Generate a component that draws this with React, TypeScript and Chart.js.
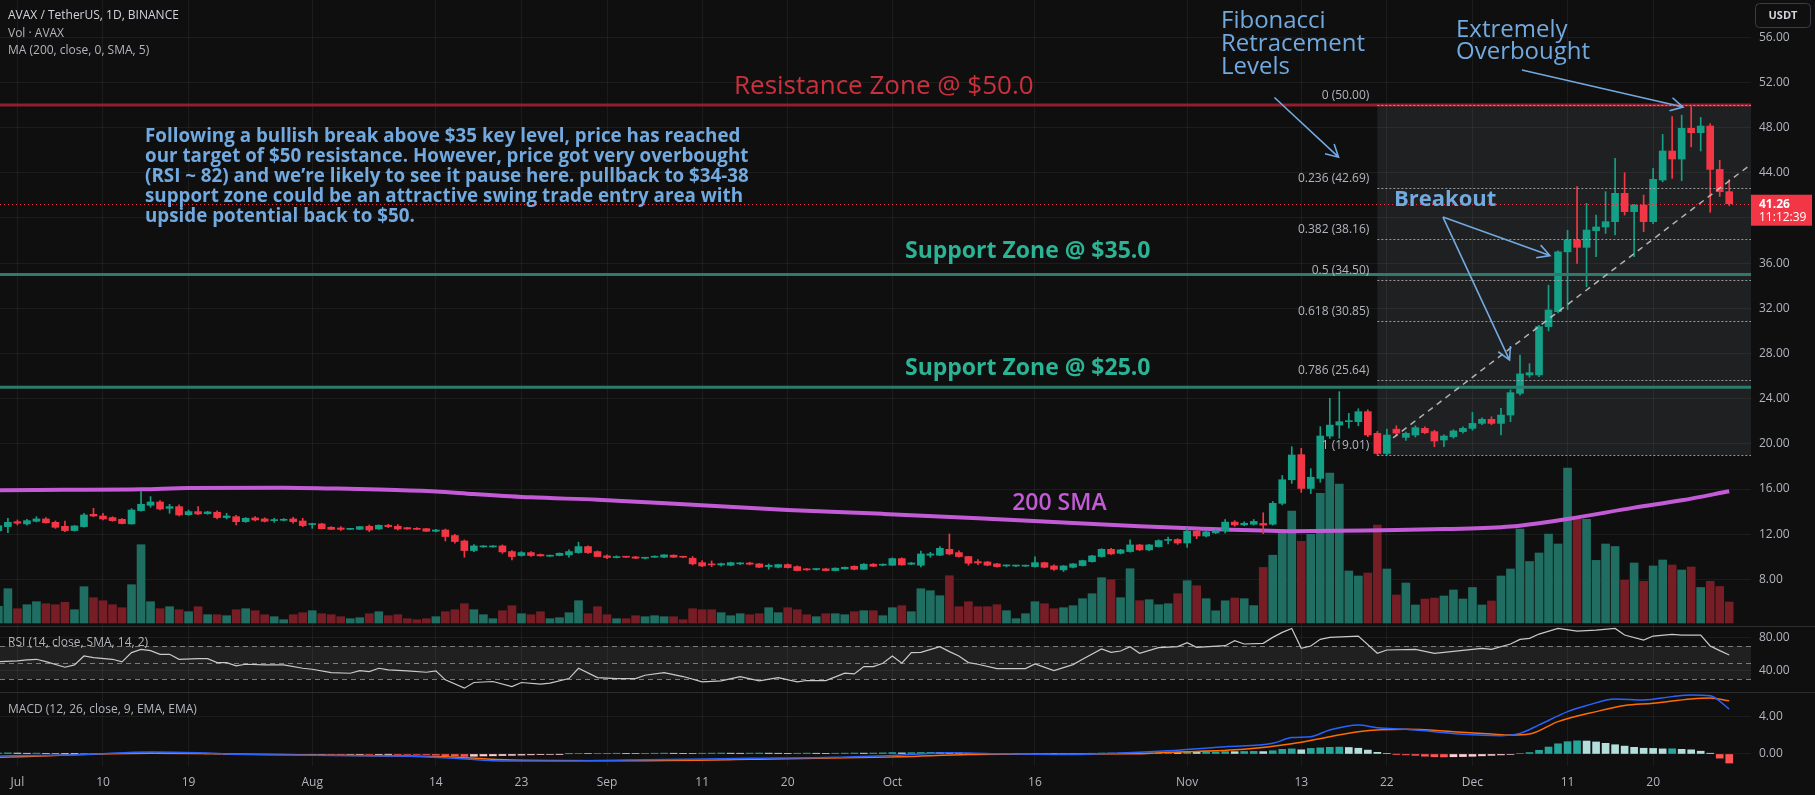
import React, { useEffect, useRef } from 'react';
import { Chart, registerables } from 'chart.js';

Chart.register(...registerables);

// ---------------- DATA ----------------
// Day index: 0 = 1 Jul 2023. Candle arrays start at FIRST_DAY (29 Jun 2023).
const FIRST_DAY = -2;
const tickDays = [0, 9, 18, 31, 44, 53, 62, 72, 81, 92, 107, 123, 135, 144, 153, 163, 172];
const tickLabels = ['Jul', '10', '19', 'Aug', '14', '23', 'Sep', '11', '20', 'Oct', '16', 'Nov', '13', '22', 'Dec', '11', '20'];

const openPrices = [
  12.30, 12.67, 13.11, 12.91, 13.14, 13.35, 13.05, 12.70, 12.32, 12.67,
  13.76, 13.61, 13.47, 13.32, 12.91, 14.09, 14.56, 14.85, 14.29, 14.44,
  13.73, 14.00, 13.82, 13.94, 13.47, 13.55, 13.11, 13.44, 13.35, 13.20,
  13.23, 13.35, 13.17, 12.85, 12.91, 12.61, 12.55, 12.43, 12.43, 12.70,
  12.46, 12.79, 12.70, 12.58, 12.52, 12.49, 12.26, 12.37, 11.88, 11.40,
  10.55, 10.87, 10.87, 10.96, 10.46, 10.11, 10.37, 10.20, 10.05, 10.11,
  10.17, 10.37, 10.90, 10.46, 10.08, 9.93, 10.00, 9.99, 9.87, 9.96,
  9.96, 10.14, 10.00, 9.87, 9.48, 9.37, 9.28, 9.25, 9.37, 9.45,
  9.37, 9.13, 9.07, 9.31, 9.13, 8.93, 8.87, 8.93, 8.78, 8.93,
  9.16, 8.89, 9.34, 9.25, 9.25, 9.84, 9.34, 9.25, 10.14, 10.14,
  10.66, 10.37, 10.02, 9.57, 9.54, 9.37, 9.19, 9.18, 9.17, 9.13,
  9.48, 9.19, 8.84, 9.07, 9.22, 9.57, 10.02, 10.66, 10.31, 10.46,
  11.05, 10.61, 10.90, 11.45, 11.53, 11.22, 12.27, 11.84, 12.12, 12.30,
  13.07, 12.82, 12.88, 12.95, 12.88, 14.73, 16.82, 19.04, 16.05, 16.94,
  20.69, 21.66, 21.96, 21.96, 22.85, 20.93, 19.15, 21.30, 20.57, 20.78,
  21.37, 21.08, 20.34, 20.63, 21.08, 21.37, 21.81, 22.17, 21.81, 22.55,
  24.47, 26.10, 26.10, 30.38, 31.70, 37.00, 38.05, 37.40, 38.87, 39.20,
  39.67, 42.18, 40.56, 41.15, 39.67, 43.36, 45.93, 45.22, 47.94, 47.55,
  48.14, 44.30, 42.33,
];
const highPrices = [
  12.80, 13.41, 13.26, 13.32, 13.55, 13.47, 13.17, 13.17, 12.76, 13.85,
  14.29, 13.85, 13.55, 13.38, 14.26, 15.77, 15.33, 14.97, 14.65, 14.59,
  14.14, 14.44, 14.03, 14.06, 13.85, 13.67, 13.47, 13.55, 13.45, 13.41,
  13.38, 13.50, 13.41, 12.97, 12.97, 12.67, 12.67, 12.52, 12.70, 12.82,
  12.82, 12.88, 12.85, 12.61, 12.58, 12.52, 12.43, 12.46, 11.99, 11.49,
  11.08, 11.00, 10.99, 11.05, 10.55, 10.46, 10.46, 10.25, 10.14, 10.34,
  10.61, 11.29, 10.96, 10.52, 10.17, 10.08, 10.05, 10.04, 9.96, 10.08,
  10.20, 10.17, 10.05, 10.02, 9.66, 9.63, 9.45, 9.52, 9.49, 9.52,
  9.40, 9.37, 9.34, 9.37, 9.20, 8.97, 8.95, 8.99, 9.02, 9.10,
  9.20, 9.40, 9.40, 9.37, 9.90, 9.90, 9.50, 10.50, 10.40, 10.90,
  12.02, 10.52, 10.05, 9.75, 9.60, 9.42, 9.28, 9.25, 9.26, 10.00,
  9.52, 9.28, 9.22, 9.40, 9.70, 10.12, 10.72, 10.75, 10.66, 11.49,
  11.10, 11.10, 11.50, 11.75, 11.60, 12.57, 12.40, 12.30, 12.40, 13.30,
  13.20, 13.10, 13.30, 13.90, 14.90, 17.20, 19.75, 19.60, 17.80, 21.52,
  24.03, 24.62, 22.70, 23.10, 23.00, 21.10, 21.30, 21.60, 21.05, 21.60,
  21.50, 21.20, 20.80, 21.25, 21.50, 22.80, 22.30, 22.40, 23.14, 24.77,
  27.86, 27.10, 30.50, 34.05, 37.10, 38.90, 42.77, 41.29, 40.26, 42.33,
  45.28, 44.01, 41.20, 42.03, 44.40, 47.40, 48.97, 49.10, 50.00, 48.90,
  48.35, 45.10, 43.40,
];
const lowPrices = [
  12.25, 12.14, 12.82, 12.79, 13.08, 12.97, 12.52, 12.23, 12.28, 12.61,
  13.55, 13.26, 13.14, 12.90, 12.88, 14.03, 14.38, 14.14, 13.85, 13.61,
  13.67, 13.73, 13.76, 13.35, 13.35, 12.82, 13.05, 13.17, 13.08, 13.05,
  13.17, 12.97, 12.67, 12.52, 12.46, 12.40, 12.32, 12.40, 12.40, 12.23,
  12.43, 12.58, 12.37, 12.43, 12.40, 12.23, 12.20, 11.40, 11.20, 9.96,
  10.46, 10.84, 10.84, 10.30, 9.73, 10.05, 10.02, 10.05, 10.02, 10.08,
  9.96, 10.31, 10.30, 9.99, 9.84, 9.90, 9.93, 9.84, 9.81, 9.93,
  9.93, 9.93, 9.93, 9.28, 9.13, 9.13, 9.16, 9.20, 9.31, 9.28,
  9.04, 8.89, 9.02, 9.00, 8.75, 8.80, 8.82, 8.75, 8.75, 8.90,
  8.84, 8.86, 9.12, 9.20, 9.22, 9.25, 9.30, 9.10, 9.96, 10.10,
  10.17, 9.96, 9.25, 9.30, 9.20, 9.07, 9.10, 9.12, 9.14, 9.07,
  9.02, 8.80, 8.70, 9.02, 9.18, 9.52, 9.96, 10.20, 10.25, 10.40,
  10.55, 10.55, 10.85, 11.13, 11.10, 10.82, 11.60, 11.75, 12.05, 12.10,
  12.70, 12.75, 12.80, 12.05, 12.80, 14.60, 16.50, 15.70, 15.59, 16.60,
  20.49, 20.49, 21.40, 21.60, 20.63, 19.01, 19.05, 20.70, 20.30, 20.60,
  20.90, 19.75, 19.75, 20.50, 20.95, 21.20, 21.70, 21.70, 20.78, 21.96,
  24.32, 25.90, 25.95, 30.00, 31.60, 31.90, 35.98, 33.90, 36.57, 38.64,
  38.49, 40.26, 36.57, 38.79, 39.50, 43.20, 43.50, 43.30, 46.30, 45.93,
  40.50, 41.90, 41.10,
];
const closePrices = [
  12.75, 13.05, 12.97, 13.20, 13.35, 13.02, 12.61, 12.32, 12.73, 13.70,
  13.61, 13.35, 13.20, 12.94, 14.14, 14.65, 14.85, 14.23, 14.44, 13.70,
  14.00, 13.79, 13.97, 13.47, 13.61, 13.11, 13.41, 13.26, 13.14, 13.29,
  13.32, 13.11, 12.76, 12.94, 12.49, 12.43, 12.43, 12.49, 12.67, 12.37,
  12.79, 12.67, 12.46, 12.46, 12.43, 12.26, 12.37, 11.79, 11.35, 10.55,
  10.96, 10.93, 10.96, 10.43, 10.02, 10.37, 10.11, 10.08, 10.11, 10.31,
  10.46, 10.90, 10.37, 10.02, 9.93, 10.02, 9.96, 9.87, 9.93, 10.05,
  10.17, 9.96, 9.96, 9.37, 9.19, 9.28, 9.39, 9.48, 9.43, 9.34,
  9.07, 9.25, 9.31, 9.04, 8.78, 8.84, 8.90, 8.78, 8.99, 9.07,
  8.89, 9.34, 9.16, 9.34, 9.84, 9.28, 9.45, 10.25, 10.25, 10.75,
  10.25, 10.02, 9.43, 9.45, 9.25, 9.13, 9.22, 9.20, 9.23, 9.48,
  9.07, 8.89, 9.19, 9.37, 9.66, 10.08, 10.66, 10.25, 10.61, 11.05,
  10.61, 11.05, 11.43, 11.50, 11.22, 12.27, 11.84, 12.21, 12.30, 13.07,
  12.82, 12.97, 13.13, 12.80, 14.73, 16.82, 19.01, 16.05, 17.04, 20.69,
  21.66, 21.96, 22.05, 22.85, 20.78, 19.15, 20.78, 20.95, 20.93, 21.43,
  20.99, 20.25, 20.69, 21.14, 21.37, 21.81, 22.17, 21.81, 22.55, 24.53,
  26.19, 26.30, 30.38, 31.85, 37.00, 38.05, 37.40, 38.93, 39.20, 39.67,
  42.18, 40.56, 41.15, 39.67, 43.42, 45.93, 45.22, 47.94, 47.55, 48.14,
  44.30, 42.33, 41.26,
];
// volume, millions of AVAX
const volumes = [
  1.67, 3.43, 1.43, 1.83, 2.13, 1.93, 1.83, 2.07, 1.33, 3.63,
  2.53, 2.23, 1.83, 1.53, 3.83, 7.83, 2.13, 1.43, 1.63, 1.33,
  1.13, 1.63, 0.83, 0.83, 0.73, 1.33, 1.43, 1.23, 0.83, 0.63,
  0.33, 0.83, 1.03, 1.23, 0.93, 0.83, 0.63, 0.43, 0.53, 0.93,
  1.13, 0.73, 0.83, 0.43, 0.33, 0.43, 0.63, 1.13, 1.33, 1.93,
  1.33, 0.83, 0.43, 1.23, 1.73, 0.93, 0.83, 1.13, 0.43, 0.53,
  1.03, 2.23, 0.93, 1.63, 0.83, 0.43, 0.43, 0.73, 0.63, 0.73,
  0.63, 0.63, 0.33, 1.43, 1.33, 1.33, 1.03, 0.73, 0.93, 0.83,
  0.93, 1.53, 1.03, 1.53, 1.33, 0.83, 0.63, 0.93, 0.93, 0.83,
  1.13, 1.23, 1.23, 0.73, 1.53, 1.73, 1.13, 3.43, 3.23, 2.73,
  4.73, 1.63, 2.13, 1.63, 1.63, 1.83, 1.23, 0.43, 0.93, 2.13,
  1.93, 1.43, 1.53, 1.73, 2.43, 2.93, 4.53, 4.33, 2.53, 5.43,
  2.23, 2.33, 1.83, 1.93, 2.93, 4.23, 3.73, 2.43, 1.22, 2.22,
  2.50, 2.43, 1.74, 5.56, 6.78, 9.20, 11.20, 8.17, 8.86, 12.96,
  15.00, 13.90, 5.20, 4.70, 5.00, 9.80, 5.40, 2.80, 4.00, 1.80,
  2.40, 2.50, 2.70, 3.30, 2.40, 3.55, 1.80, 2.20, 4.70, 5.40,
  9.40, 6.15, 7.00, 8.90, 7.90, 15.50, 10.36, 10.36, 6.26, 7.90,
  7.65, 4.28, 6.00, 4.17, 5.70, 6.30, 5.80, 5.30, 5.60, 3.55,
  4.17, 3.65, 2.10,
];

// 200-day SMA, read at points along the curve
const smaDays = [-2, 5, 13, 18, 28, 33, 38, 44, 48, 54, 61, 71, 81, 91, 101, 111, 118, 124, 134, 145, 150, 157, 163, 170, 175, 180];
const smaValues = [15.90, 15.93, 15.97, 16.10, 16.12, 16.05, 15.96, 15.79, 15.56, 15.26, 15.05, 14.60, 14.15, 13.80, 13.42, 12.98, 12.70, 12.50, 12.27, 12.36, 12.45, 12.67, 13.35, 14.35, 15.00, 15.80];

// RSI(14)
const rsiDays = [-2, 0, 1, 2, 3, 5, 6, 7, 8, 10, 11, 12, 13, 14, 15, 16, 17, 19, 20, 21, 22, 23, 24, 26, 28, 30, 31, 33, 35, 36, 37, 38, 39, 41, 43, 44, 45, 47, 48, 50, 52, 53, 55, 56, 58, 59, 61, 63, 65, 66, 68, 70, 72, 74, 76, 78, 80, 82, 83, 85, 87, 88, 89, 90, 91, 92, 93, 94, 95, 97, 98, 99, 100, 101, 103, 106, 107, 109, 111, 112, 114, 115, 116, 117, 118, 120, 122, 123, 124, 127, 128, 129, 131, 132, 133, 134, 135, 136, 137, 138, 141, 143, 144, 147, 149, 154, 155, 157, 158, 159, 160, 162, 164, 166, 168, 169, 171, 172, 174, 175, 177, 178, 179, 180];
const rsiValues = [51.2, 52.0, 53.2, 54.0, 51.2, 44.4, 47.2, 58.0, 56.0, 54.0, 50.8, 62.0, 66.0, 64.4, 60.0, 60.0, 54.0, 54.8, 54.8, 50.0, 50.0, 46.0, 48.0, 47.2, 47.2, 43.2, 42.0, 38.0, 37.2, 40.4, 39.2, 43.2, 41.2, 40.0, 38.4, 40.0, 29.2, 19.2, 26.0, 27.2, 21.2, 26.0, 24.0, 25.2, 30.8, 43.2, 32.0, 30.8, 30.8, 34.8, 38.0, 33.2, 26.8, 28.0, 33.2, 28.0, 32.0, 26.8, 28.4, 28.4, 37.2, 36.4, 45.2, 45.2, 49.2, 58.0, 49.2, 62.0, 62.4, 69.2, 63.2, 58.0, 50.0, 48.0, 42.8, 42.8, 48.4, 40.4, 47.6, 54.0, 66.4, 62.4, 64.0, 69.2, 61.2, 68.0, 69.2, 74.0, 68.4, 70.4, 76.4, 72.4, 73.2, 80.4, 86.4, 91.2, 67.2, 70.0, 78.0, 80.4, 82.0, 61.2, 65.2, 66.0, 61.2, 67.2, 66.0, 72.4, 78.0, 79.2, 84.4, 91.2, 88.0, 89.2, 91.2, 83.2, 77.2, 82.0, 84.0, 83.2, 83.2, 70.0, 64.4, 59.2];

// MACD(12, 26, 9)
const macdDays = [-2, 7, 14, 19, 23, 31, 40, 46, 50, 55, 64, 77, 86, 93, 98, 104, 110, 116, 121, 127, 132, 134, 136, 138, 141, 143, 146, 149, 152, 156, 158, 160, 163, 165, 168, 171, 174, 176, 178, 180];
const macdValues = [-0.22, -0.07, 0.22, 0.14, -0.04, -0.14, -0.22, -0.47, -0.72, -0.76, -0.65, -0.47, -0.36, -0.11, 0.12, 0.02, -0.06, 0.10, 0.35, 0.79, 1.15, 1.77, 1.87, 2.59, 3.14, 2.84, 2.66, 2.41, 2.12, 1.97, 2.23, 3.14, 4.58, 5.23, 5.95, 5.84, 6.20, 6.38, 6.30, 4.85];
const signalDays = [-2, 14, 23, 31, 45, 52, 64, 77, 93, 100, 110, 118, 121, 129, 134, 138, 141, 146, 151, 155, 157, 159, 162, 166, 169, 172, 176, 178, 180];
const signalValues = [-0.36, 0.07, 0.00, -0.11, -0.29, -0.65, -0.72, -0.58, -0.29, -0.05, 0.00, 0.03, 0.18, 0.50, 1.10, 1.87, 2.41, 2.66, 2.41, 2.16, 2.05, 2.15, 3.50, 4.58, 5.23, 5.48, 5.95, 6.05, 5.75];
const histValues = [
  0.10, 0.12, 0.10, 0.08, 0.09, 0.07, 0.05, 0.03, 0.02, 0.04,
  0.06, 0.05, 0.04, 0.06, 0.10, 0.14, 0.16, 0.14, 0.12, 0.09,
  0.06, 0.04, 0.02, 0.01, -0.02, -0.04, -0.05, -0.06, -0.05, -0.04,
  -0.05, -0.06, -0.07, -0.06, -0.05, -0.06, -0.07, -0.05, -0.04, -0.05,
  -0.04, -0.03, -0.04, -0.05, -0.06, -0.07, -0.12, -0.18, -0.22, -0.26,
  -0.25, -0.22, -0.20, -0.17, -0.15, -0.12, -0.09, -0.07, -0.05, -0.03,
  0.02, 0.06, 0.05, 0.06, 0.07, 0.08, 0.07, 0.06, 0.07, 0.08,
  0.09, 0.08, 0.07, 0.06, 0.08, 0.09, 0.10, 0.09, 0.08, 0.09,
  0.10, 0.09, 0.08, 0.07, 0.08, 0.09, 0.08, 0.07, 0.08, 0.09,
  0.10, 0.09, 0.10, 0.12, 0.15, 0.12, 0.14, 0.16, 0.17, 0.16,
  0.14, 0.11, 0.08, 0.06, 0.05, 0.04, 0.04, 0.03, 0.03, 0.04,
  0.05, 0.04, 0.04, 0.05, 0.06, 0.08, 0.10, 0.09, 0.11, 0.12,
  0.11, 0.12, 0.14, 0.16, 0.15, 0.20, 0.19, 0.20, 0.21, 0.26,
  0.25, 0.27, 0.28, 0.26, 0.35, 0.50, 0.55, 0.45, 0.60, 0.66,
  0.72, 0.74, 0.70, 0.62, 0.42, 0.18, 0.06, -0.02, -0.10, -0.15,
  -0.24, -0.30, -0.32, -0.30, -0.28, -0.25, -0.20, -0.15, -0.10, -0.05,
  0.05, 0.15, 0.40, 0.75, 1.10, 1.33, 1.42, 1.40, 1.30, 1.15,
  1.00, 0.85, 0.72, 0.62, 0.60, 0.55, 0.56, 0.50, 0.45, 0.30,
  0.08, -0.45, -0.98,
];

const priceTicks = [8, 12, 16, 20, 24, 28, 32, 36, 40, 44, 48, 52, 56];
const rsiTicks = [40, 80];
const rsiBands = [70, 50, 30];
const macdTicks = [0, 4];

const fibStartDay = 143;
const fibRatios = ['0', '0.236', '0.382', '0.5', '0.618', '0.786', '1'];
const fibPrices = [50.0, 42.69, 38.16, 34.5, 30.85, 25.64, 19.01];
const resistanceLevel = 50.0;
const supportLevels = [35.0, 25.0];
const lastPrice = 41.26;
const countdown = '11:12:39';

const noteLines = [
  'Following a bullish break above $35 key level, price has reached',
  'our target of $50 resistance. However, price got very overbought',
  '(RSI ~ 82) and we\u2019re likely to see it pause here. pullback to $34-38',
  'support zone could be an attractive swing trade entry area with',
  'upside potential back to $50.',
];

// ---------------- STYLE / LAYOUT ----------------
const W = 1815;
const H = 795;
const FONT = '"Open Sans", "DejaVu Sans", sans-serif';
const BG = '#0f0f0f';
const GRID = 'rgba(255,255,255,0.055)';
const AXIS_TEXT = '#b2b5be';
const UP = '#14a086';
const DOWN = '#f23645';
const VOL_UP = '#1f6e61';
const VOL_DOWN = '#761d26';
const SMA_COLOR = '#c45bd6';
const NOTE_BLUE = '#72a9df';
const RES_RED = '#8f1f2c';
const RES_TEXT = '#cc303c';
const SUP_LINE = '#2c7b6c';
const SUP_TEXT = '#2ab394';

const X_MIN = -1.83;
const X_MAX = 182.29;

const days = openPrices.map((_, i) => FIRST_DAY + i);
const up = (i) => closePrices[i] >= openPrices[i];
const candleColors = days.map((_, i) => (up(i) ? UP : DOWN));
const volColors = days.map((_, i) => (up(i) ? VOL_UP : VOL_DOWN));
const histColors = histValues.map((v, i) => {
  const prev = i > 0 ? histValues[i - 1] : v;
  if (v >= 0) return v >= prev ? '#26a69a' : '#b2dfdb';
  return v <= prev ? '#ff5252' : '#ffcdd2';
});

function drawArrow(ctx, x1, y1, x2, y2, head) {
  const a = Math.atan2(y2 - y1, x2 - x1);
  ctx.beginPath();
  ctx.moveTo(x1, y1);
  ctx.lineTo(x2, y2);
  ctx.moveTo(x2 - head * Math.cos(a - 0.5), y2 - head * Math.sin(a - 0.5));
  ctx.lineTo(x2, y2);
  ctx.lineTo(x2 - head * Math.cos(a + 0.5), y2 - head * Math.sin(a + 0.5));
  ctx.stroke();
}

function hLine(ctx, x1, x2, y) {
  ctx.beginPath();
  ctx.moveTo(x1, y);
  ctx.lineTo(x2, y);
  ctx.stroke();
}

const overlayPlugin = {
  id: 'tvOverlay',
  beforeDraw(chart) {
    const { ctx } = chart;
    ctx.save();
    ctx.fillStyle = BG;
    ctx.fillRect(0, 0, chart.width, chart.height);
    ctx.restore();
  },
  beforeDatasetsDraw(chart) {
    const { ctx, chartArea: ca, scales } = chart;
    const X = (v) => scales.x.getPixelForValue(v);
    const P = (v) => scales.y.getPixelForValue(v);
    const R = (v) => scales.rsi.getPixelForValue(v);
    ctx.save();
    ctx.beginPath();
    ctx.rect(ca.left, ca.top, ca.width, ca.height);
    ctx.clip();
    const fx = X(fibStartDay);
    ctx.fillStyle = 'rgba(120,123,134,0.16)';
    ctx.fillRect(fx, P(fibPrices[0]), ca.right - fx, P(fibPrices[fibPrices.length - 1]) - P(fibPrices[0]));
    ctx.fillStyle = 'rgba(255,255,255,0.075)';
    ctx.fillRect(ca.left, R(70), ca.width, R(30) - R(70));
    ctx.strokeStyle = 'rgba(140,140,140,0.85)';
    ctx.lineWidth = 1;
    ctx.setLineDash([5, 4]);
    rsiBands.forEach((b) => hLine(ctx, ca.left, ca.right, Math.round(R(b)) + 0.5));
    ctx.restore();
  },
  afterDatasetsDraw(chart) {
    const { ctx, chartArea: ca, scales } = chart;
    const X = (v) => scales.x.getPixelForValue(v);
    const P = (v) => scales.y.getPixelForValue(v);
    ctx.save();
    ctx.beginPath();
    ctx.rect(ca.left, ca.top, ca.width, ca.height);
    ctx.clip();

    // zones
    ctx.setLineDash([]);
    ctx.lineWidth = 3;
    ctx.strokeStyle = RES_RED;
    hLine(ctx, ca.left, ca.right, P(resistanceLevel));
    ctx.strokeStyle = SUP_LINE;
    supportLevels.forEach((s) => hLine(ctx, ca.left, ca.right, P(s)));

    // fib levels
    const fx = X(fibStartDay);
    ctx.lineWidth = 1;
    ctx.setLineDash([2, 2]);
    ctx.strokeStyle = 'rgba(175,175,175,0.85)';
    fibPrices.forEach((p) => hLine(ctx, fx, ca.right, Math.round(P(p)) + 0.5));

    // last price line
    ctx.setLineDash([1, 3]);
    ctx.strokeStyle = DOWN;
    hLine(ctx, ca.left, ca.right, Math.round(P(lastPrice)) + 0.5);

    // trend line
    ctx.setLineDash([6, 5]);
    ctx.lineWidth = 1.5;
    ctx.strokeStyle = 'rgba(205,205,205,0.85)';
    ctx.beginPath();
    ctx.moveTo(X(144.65), P(20.52));
    ctx.lineTo(X(183), P(45.21));
    ctx.stroke();

    // fib labels
    ctx.setLineDash([]);
    ctx.font = `12px ${FONT}`;
    ctx.fillStyle = AXIS_TEXT;
    ctx.textAlign = 'right';
    ctx.textBaseline = 'middle';
    fibPrices.forEach((p, i) => {
      ctx.fillText(`${fibRatios[i]} (${p.toFixed(2)})`, fx - 8, P(p) - 9.5);
    });

    // arrows
    ctx.strokeStyle = NOTE_BLUE;
    ctx.lineWidth = 1.6;
    drawArrow(ctx, X(132.18), P(50.67), X(138.92), P(45.38), 14);
    drawArrow(ctx, X(158.2), P(53.1), X(175.14), P(49.82), 14);
    drawArrow(ctx, X(149.9), P(40.08), X(161.15), P(36.67), 14);
    drawArrow(ctx, X(149.9), P(40.08), X(156.9), P(27.42), 14);

    // texts
    ctx.textAlign = 'left';
    ctx.textBaseline = 'middle';
    ctx.fillStyle = RES_TEXT;
    ctx.font = `26px ${FONT}`;
    ctx.fillText('Resistance Zone @ $50.0', X(75.35), P(51.59));

    ctx.fillStyle = SUP_TEXT;
    ctx.font = `bold 23px ${FONT}`;
    ctx.fillText('Support Zone @ $35.0', X(93.33), P(37.07));
    ctx.fillText('Support Zone @ $25.0', X(93.33), P(26.71));

    ctx.fillStyle = SMA_COLOR;
    ctx.font = `600 23px ${FONT}`;
    ctx.fillText('200 SMA', X(104.6), P(14.76));

    ctx.fillStyle = NOTE_BLUE;
    ctx.font = `bold 18.8px ${FONT}`;
    const ny = P(47.2);
    noteLines.forEach((t, i) => ctx.fillText(t, X(13.42), ny + i * 19.9));

    ctx.font = `24px ${FONT}`;
    const fy = P(57.44);
    ['Fibonacci', 'Retracement', 'Levels'].forEach((t, i) => ctx.fillText(t, X(126.56), fy + i * 23));
    const oy = P(56.64);
    ['Extremely', 'Overbought'].forEach((t, i) => ctx.fillText(t, X(151.27), oy + i * 22));

    ctx.font = `bold 22px ${FONT}`;
    ctx.fillText('Breakout', X(144.75), P(41.59));
    ctx.restore();
  },
  afterDraw(chart) {
    const { ctx, chartArea: ca, scales } = chart;
    const P = (v) => scales.y.getPixelForValue(v);
    ctx.save();
    // pane separators
    ctx.strokeStyle = '#2e2e2e';
    ctx.lineWidth = 1;
    [scales.rsi.top, scales.macd.top].forEach((y) => hLine(ctx, 0, W, Math.round(y) + 0.5));

    // legends
    ctx.textAlign = 'left';
    ctx.textBaseline = 'middle';
    ctx.font = `12px ${FONT}`;
    ctx.fillStyle = '#d1d4dc';
    ctx.fillText('AVAX / TetherUS, 1D, BINANCE', 8, 16);
    ctx.fillStyle = AXIS_TEXT;
    ctx.fillText('Vol \u00b7 AVAX', 8, 33.5);
    ctx.fillText('MA (200, close, 0, SMA, 5)', 8, 51);
    ctx.fillText('RSI (14, close, SMA, 14, 2)', 8, scales.rsi.top + 17);
    ctx.fillText('MACD (12, 26, close, 9, EMA, EMA)', 8, scales.macd.top + 18);

    // last price label
    const py = P(lastPrice);
    ctx.fillStyle = DOWN;
    ctx.fillRect(ca.right, py - 9, W - ca.right - 3, 31);
    ctx.fillStyle = '#ffffff';
    ctx.font = `bold 12px ${FONT}`;
    ctx.fillText(lastPrice.toFixed(2), ca.right + 8, py + 0.5);
    ctx.font = `12px ${FONT}`;
    ctx.fillText(countdown, ca.right + 8, py + 14);

    // currency box
    ctx.fillStyle = BG;
    ctx.strokeStyle = '#3a3d45';
    ctx.beginPath();
    ctx.roundRect(1755.5, 3.5, 55, 24, 4);
    ctx.fill();
    ctx.stroke();
    ctx.fillStyle = '#d1d4dc';
    ctx.font = `bold 11px ${FONT}`;
    ctx.textAlign = 'center';
    ctx.fillText('USDT', 1783, 16);
    ctx.restore();
  },
};

function noPad(scale) {
  scale.paddingTop = 0;
  scale.paddingBottom = 0;
  scale.paddingLeft = 0;
  scale.paddingRight = 0;
}

function yAxis(weight, stackWeight, min, max, ticks) {
  return {
    type: 'linear',
    position: 'right',
    stack: 'panes',
    stackWeight,
    weight,
    min,
    max,
    offset: false,
    border: { display: false },
    grid: { color: GRID, drawTicks: false, offset: false },
    ticks: {
      color: AXIS_TEXT,
      font: { family: FONT, size: 12 },
      padding: 8,
      callback: (v) => Number(v).toFixed(2),
    },
    afterBuildTicks: (s) => {
      s.ticks = ticks.map((v) => ({ value: v }));
    },
    afterFit: (s) => {
      s.width = 64;
      noPad(s);
    },
  };
}

export default function App() {
  const ref = useRef(null);
  useEffect(() => {
    document.body.style.margin = '0';
    document.body.style.background = BG;
    const canvas = ref.current;
    const chart = new Chart(canvas, {
      type: 'bar',
      data: {
        datasets: [
          {
            type: 'bar',
            label: 'bodies',
            data: days.map((d, i) => ({ x: d, y: [openPrices[i], closePrices[i]] })),
            backgroundColor: candleColors,
            barThickness: 7,
            minBarLength: 1,
            grouped: false,
            yAxisID: 'y',
            order: 1,
            clip: 0,
          },
          {
            type: 'bar',
            label: 'wicks',
            data: days.map((d, i) => ({ x: d, y: [lowPrices[i], highPrices[i]] })),
            backgroundColor: candleColors,
            barThickness: 1,
            grouped: false,
            yAxisID: 'y',
            order: 2,
            clip: 0,
          },
          {
            type: 'line',
            label: 'SMA 200',
            data: smaDays.map((d, i) => ({ x: d, y: smaValues[i] })),
            borderColor: SMA_COLOR,
            borderWidth: 4,
            pointRadius: 0,
            cubicInterpolationMode: 'monotone',
            yAxisID: 'y',
            order: 3,
            clip: 0,
          },
          {
            type: 'bar',
            label: 'Volume',
            data: days.map((d, i) => ({ x: d, y: volumes[i] })),
            backgroundColor: volColors,
            barThickness: 8,
            grouped: false,
            yAxisID: 'vol',
            order: 5,
            clip: 0,
          },
          {
            type: 'line',
            label: 'RSI',
            data: rsiDays.map((d, i) => ({ x: d, y: rsiValues[i] })),
            borderColor: '#c9c9c9',
            borderWidth: 1.2,
            pointRadius: 0,
            yAxisID: 'rsi',
            order: 1,
            clip: 0,
          },
          {
            type: 'bar',
            label: 'Histogram',
            data: days.map((d, i) => ({ x: d, y: histValues[i] })),
            backgroundColor: histColors,
            barThickness: 7,
            grouped: false,
            yAxisID: 'macd',
            order: 4,
            clip: 0,
          },
          {
            type: 'line',
            label: 'MACD',
            data: macdDays.map((d, i) => ({ x: d, y: macdValues[i] })),
            borderColor: '#2962ff',
            borderWidth: 1.5,
            pointRadius: 0,
            cubicInterpolationMode: 'monotone',
            yAxisID: 'macd',
            order: 2,
            clip: 0,
          },
          {
            type: 'line',
            label: 'Signal',
            data: signalDays.map((d, i) => ({ x: d, y: signalValues[i] })),
            borderColor: '#ff6d00',
            borderWidth: 1.5,
            pointRadius: 0,
            cubicInterpolationMode: 'monotone',
            yAxisID: 'macd',
            order: 3,
            clip: 0,
          },
        ],
      },
      options: {
        responsive: false,
        animation: false,
        devicePixelRatio: 1,
        events: [],
        layout: { padding: 0 },
        plugins: { legend: { display: false }, tooltip: { enabled: false } },
        datasets: { bar: { grouped: false } },
        scales: {
          x: {
            type: 'linear',
            position: 'bottom',
            min: X_MIN,
            max: X_MAX,
            offset: false,
            border: { display: false },
            grid: { color: GRID, drawTicks: false, offset: false },
            ticks: {
              color: AXIS_TEXT,
              font: { family: FONT, size: 12 },
              padding: 9,
              autoSkip: false,
              maxRotation: 0,
              callback: (v) => {
                const k = tickDays.indexOf(Number(v));
                return k >= 0 ? tickLabels[k] : '';
              },
            },
            afterBuildTicks: (s) => {
              s.ticks = tickDays.map((v) => ({ value: v }));
            },
            afterFit: (s) => {
              s.height = 29;
              noPad(s);
            },
          },
          y: yAxis(1, 626, 3.87, 59.3, priceTicks),
          rsi: yAxis(2, 66, 14.58, 94.1, rsiTicks),
          macd: yAxis(3, 74, -1.3, 6.7, macdTicks),
          vol: {
            type: 'linear',
            position: 'left',
            display: false,
            offset: false,
            min: -14.3,
            max: 62.3,
          },
        },
      },
      plugins: [overlayPlugin],
    });
    return () => chart.destroy();
  }, []);

  return (
    <div style={{ width: W, height: H, background: BG }}>
      <canvas ref={ref} width={W} height={H} style={{ display: 'block', width: W, height: H }} />
    </div>
  );
}
